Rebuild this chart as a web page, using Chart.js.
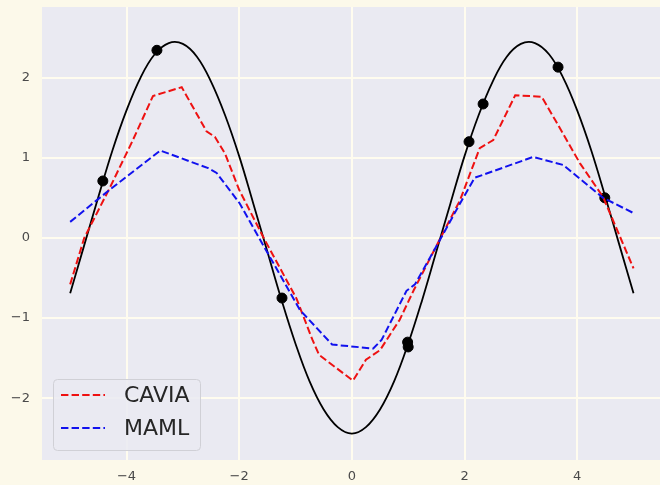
<!DOCTYPE html>
<html>
<head>
<meta charset="utf-8">
<script src="https://cdn.jsdelivr.net/npm/chart.js@4"></script>
<style>
  html, body { margin: 0; padding: 0; background: #fcf9ea; overflow: hidden; }
  #wrap { width: 660px; height: 485px; }
</style>
</head>
<body>
<div id="wrap"><canvas id="myChart" width="660" height="485"></canvas></div>
<script>
const trueX = [-5, -4.75, -4.5, -4.25, -4, -3.75, -3.5, -3.25, -3, -2.75, -2.5, -2.25, -2, -1.75, -1.5, -1.25, -1, -0.75, -0.5, -0.25,
  0, 0.25, 0.5, 0.75, 1, 1.25, 1.5, 1.75, 2, 2.25, 2.5, 2.75, 3, 3.25, 3.5, 3.75, 4, 4.25, 4.5, 4.75, 5];
const trueY = [-0.69, -0.09, 0.51, 1.09, 1.59, 2.00, 2.29, 2.43, 2.42, 2.26, 1.95, 1.53, 1.02, 0.43, -0.17, -0.77, -1.32, -1.79, -2.14, -2.36,
  -2.44, -2.36, -2.14, -1.79, -1.32, -0.77, -0.17, 0.43, 1.02, 1.53, 1.95, 2.26, 2.42, 2.43, 2.29, 2.00, 1.59, 1.09, 0.51, -0.09, -0.69];

// sampled points (black dots)
const sampleX = [-4.42, -3.46, -1.24, 0.99, 1.0, 2.08, 2.33, 3.66, 4.49];
const sampleY = [0.71, 2.34, -0.75, -1.30, -1.36, 1.20, 1.67, 2.13, 0.50];

// CAVIA prediction
const caviaX = [-5, -4.75, -4.3, -3.9, -3.53, -3.02, -2.58, -2.43, -2.25, -2.0, -1.58, -0.98, -0.7, -0.58, 0.02, 0.25, 0.5, 0.85, 1.1, 1.53, 1.92, 2.27, 2.51, 2.9, 3.37, 3.61, 4.05, 4.46, 5];
const caviaY = [-0.58, 0.0, 0.62, 1.2, 1.77, 1.88, 1.33, 1.26, 1.05, 0.6, 0.02, -0.76, -1.27, -1.46, -1.78, -1.52, -1.40, -1.02, -0.65, -0.06, 0.47, 1.12, 1.22, 1.78, 1.76, 1.47, 0.93, 0.51, -0.38];

// MAML prediction
const mamlX = [-5, -4.3, -3.4, -2.55, -2.4, -1.99, -1.55, -0.92, -0.35, 0.38, 0.53, 0.97, 1.12, 1.56, 1.92, 2.18, 3.22, 3.75, 4.46, 5];
const mamlY = [0.2, 0.6, 1.09, 0.87, 0.81, 0.43, -0.12, -0.9, -1.33, -1.38, -1.27, -0.66, -0.58, -0.03, 0.43, 0.75, 1.01, 0.91, 0.50, 0.31];

const xTicks = [-4, -2, 0, 2, 4];
const yTicks = [-2, -1, 0, 1, 2];

const pts = (xs, ys) => xs.map((x, i) => ({ x: x, y: ys[i] }));
const minus = v => (v < 0 ? '\u2212' + Math.abs(v) : String(v));

const bgPlugin = {
  id: 'bg',
  beforeDraw(chart) {
    const { ctx, chartArea: a } = chart;
    ctx.save();
    ctx.fillStyle = '#fcf9ea';
    ctx.fillRect(0, 0, chart.width, chart.height);
    ctx.fillStyle = '#eaeaf2';
    ctx.fillRect(a.left, a.top, a.right - a.left, a.bottom - a.top);
    ctx.restore();
  }
};

const legendPlugin = {
  id: 'boxLegend',
  afterDraw(chart) {
    const ctx = chart.ctx;
    const items = [['CAVIA', '#ee1111'], ['MAML', '#1111ee']];
    ctx.save();
    ctx.beginPath();
    ctx.roundRect(53.5, 379.5, 147, 71, 4);
    ctx.fillStyle = 'rgba(234,234,242,0.85)';
    ctx.fill();
    ctx.strokeStyle = '#d0d0d6';
    ctx.lineWidth = 1;
    ctx.stroke();
    items.forEach((it, i) => {
      const y = 395 + i * 33;
      ctx.beginPath();
      ctx.setLineDash([7.4, 3.2]);
      ctx.strokeStyle = it[1];
      ctx.lineWidth = 2;
      ctx.moveTo(61, y);
      ctx.lineTo(105, y);
      ctx.stroke();
      ctx.setLineDash([]);
      ctx.fillStyle = '#262626';
      ctx.font = '22px "DejaVu Sans"';
      ctx.textBaseline = 'middle';
      ctx.fillText(it[0], 124, y + 1);
    });
    ctx.restore();
  }
};

const ctx = document.getElementById('myChart').getContext('2d');
const myChart = new Chart(ctx, {
  type: 'scatter',
  data: {
    datasets: [
      {
        label: 'samples',
        data: pts(sampleX, sampleY),
        backgroundColor: '#000000',
        borderColor: '#000000',
        pointRadius: 5,
        order: 4
      },
      {
        label: 'truth',
        data: pts(trueX, trueY),
        showLine: true,
        borderColor: '#000000',
        borderWidth: 1.8,
        pointRadius: 0,
        tension: 0.4,
        order: 3
      },
      {
        label: 'CAVIA',
        data: pts(caviaX, caviaY),
        showLine: true,
        borderColor: '#ee1111',
        borderWidth: 2,
        borderDash: [7.4, 3.2],
        pointRadius: 0,
        order: 2
      },
      {
        label: 'MAML',
        data: pts(mamlX, mamlY),
        showLine: true,
        borderColor: '#1111ee',
        borderWidth: 2,
        borderDash: [7.4, 3.2],
        pointRadius: 0,
        order: 1
      }
    ]
  },
  options: {
    responsive: false,
    animation: false,
    layout: { autoPadding: false, padding: { top: 7, right: 0, left: 0, bottom: 0 } },
    plugins: {
      legend: { display: false },
      tooltip: { enabled: false }
    },
    scales: {
      x: {
        type: 'linear',
        min: -5.5,
        max: 5.47,
        afterBuildTicks: s => { s.ticks = xTicks.map(v => ({ value: v })); },
        afterFit: s => { s.height = 25; s.paddingLeft = 0; s.paddingRight = 0; },
        grid: { color: '#fffcef', lineWidth: 2, drawTicks: false },
        border: { display: false },
        ticks: {
          padding: 9,
          color: '#4a4a4a',
          font: { family: 'DejaVu Sans', size: 13 },
          callback: v => minus(v)
        }
      },
      y: {
        type: 'linear',
        min: -2.77,
        max: 2.88,
        afterBuildTicks: s => { s.ticks = yTicks.map(v => ({ value: v })); },
        afterFit: s => { s.width = 42; s.paddingTop = 0; s.paddingBottom = 0; },
        grid: { color: '#fffcef', lineWidth: 2, drawTicks: false },
        border: { display: false },
        ticks: {
          padding: 12,
          color: '#4a4a4a',
          font: { family: 'DejaVu Sans', size: 13 },
          callback: v => minus(v)
        }
      }
    }
  },
  plugins: [bgPlugin, legendPlugin]
});
</script>
</body>
</html>
